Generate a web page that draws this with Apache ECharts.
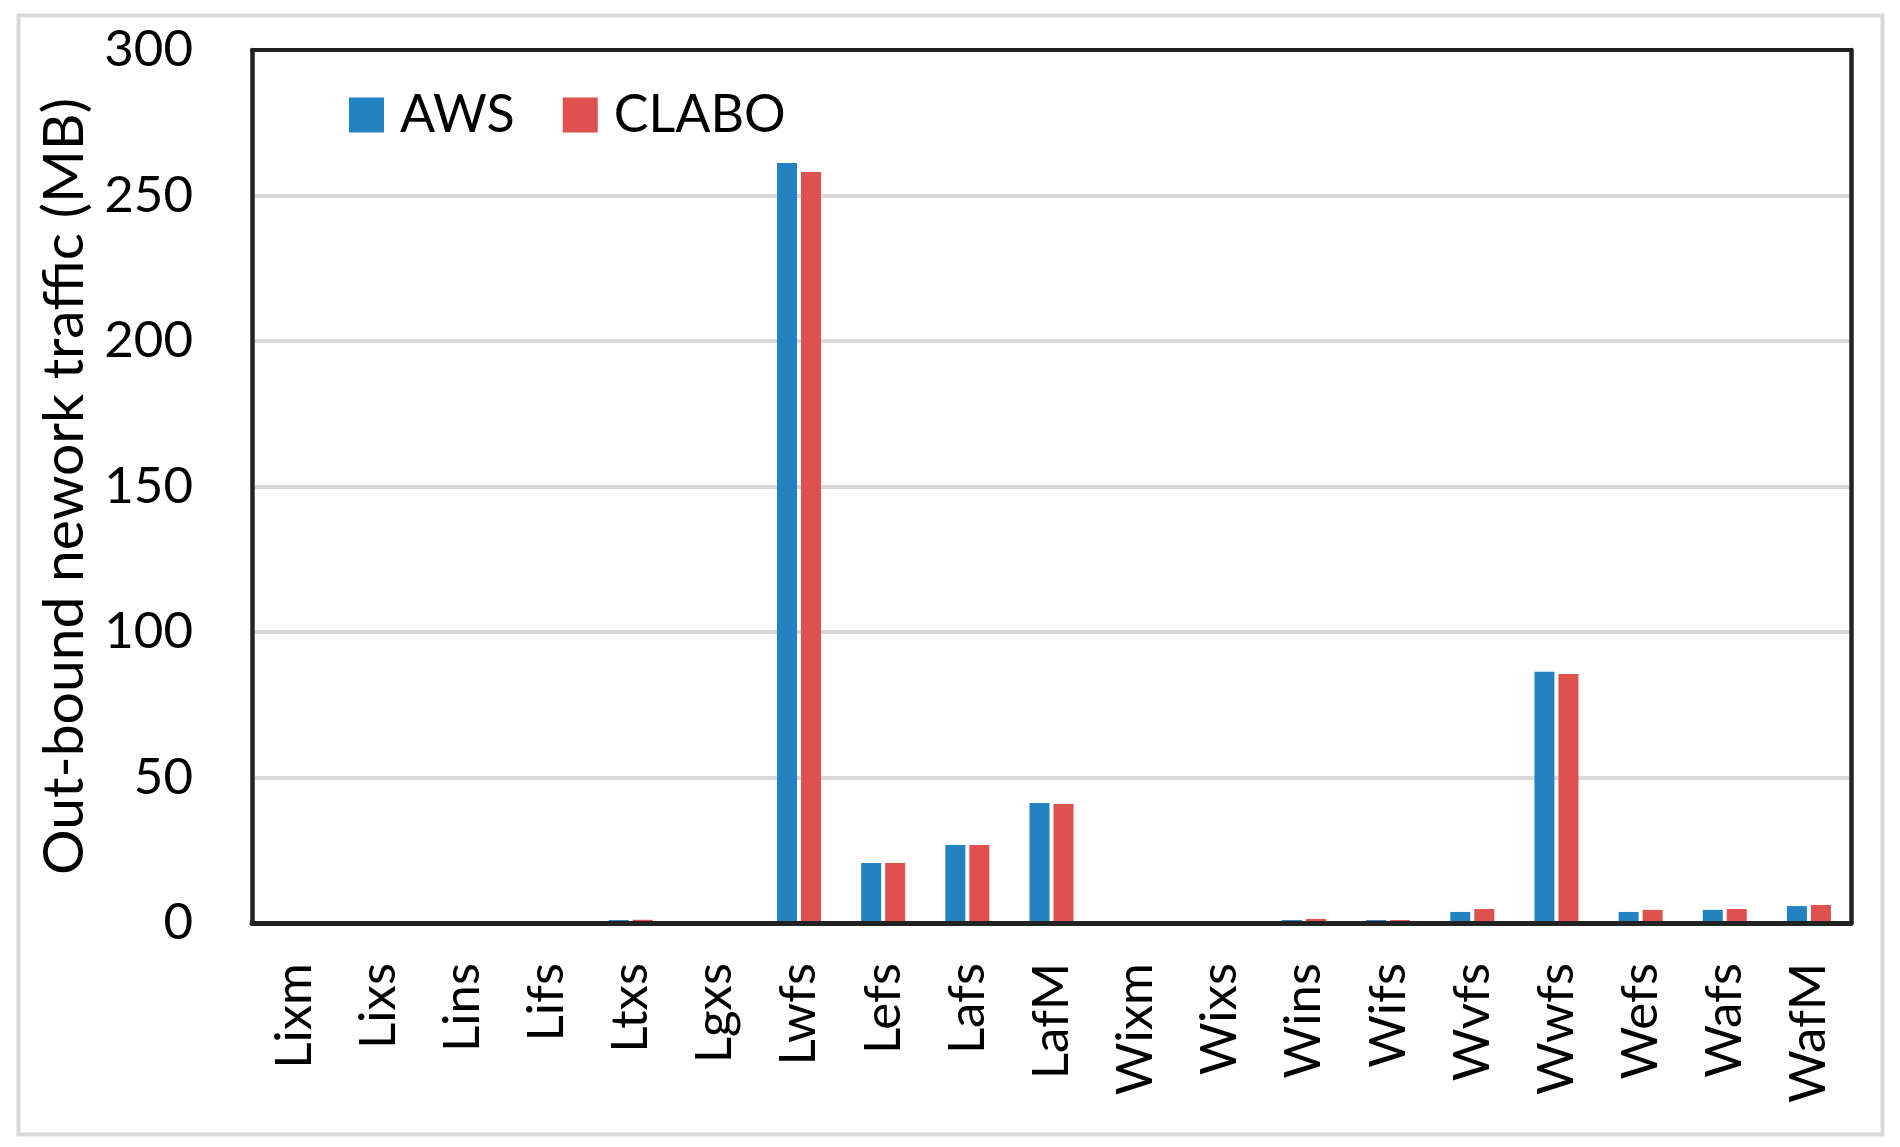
<!DOCTYPE html>
<html>
<head>
<meta charset="utf-8">
<script src="https://cdn.jsdelivr.net/npm/echarts@6/dist/echarts.min.js"></script>
<style>html,body{margin:0;padding:0;background:#fff;}#c{width:1900px;height:1147px;}</style>
</head>
<body>
<div id="c"></div>
<script>
const categories = ['Lixm','Lixs','Lins','Lifs','Ltxs','Lgxs','Lwfs','Lefs','Lafs','LafM','Wixm','Wixs','Wins','Wifs','Wvfs','Wwfs','Wefs','Wafs','WafM'];
const awsValues   = [0, 0, 0, 0, 1.0, 0, 261.2, 20.6, 26.8, 41.2, 0, 0, 1.0, 1.0, 3.8, 86.3, 3.8, 4.5, 5.8];
const claboValues = [0, 0, 0, 0, 1.1, 0, 258.1, 20.6, 26.8, 40.9, 0, 0, 1.4, 1.0, 4.8, 85.6, 4.5, 4.8, 6.2];
const seriesNames = ['AWS', 'CLABO'];
const yTicks = { min: 0, max: 300, interval: 50 };
const yTitle = 'Out-bound nework traffic (MB)';

const FONT = 'Lato';
const chart = echarts.init(document.getElementById('c'), null, { renderer: 'canvas' });
const axisDark = '#222222';
chart.setOption({
  animation: false,
  backgroundColor: '#ffffff',
  graphic: [{
    type: 'rect', left: 16, top: 13,
    shape: { width: 1864, height: 1119 },
    style: { fill: 'none', stroke: '#d9d9d9', lineWidth: 4 }, silent: true, z: -1
  }],
  grid: { left: 252, right: 49, top: 50, bottom: 224, show: false },
  legend: {
    left: 344, top: 84,
    itemWidth: 35, itemHeight: 35, itemGap: 48,
    icon: 'rect',
    data: seriesNames,
    textStyle: { fontFamily: FONT, fontSize: 52, color: '#000', lineHeight: 35, padding: [0, 0, 0, 11] }
  },
  xAxis: [{
    type: 'category', data: categories, position: 'bottom',
    axisLine: { show: true, lineStyle: { color: axisDark, width: 5 } },
    axisTick: { show: false },
    axisLabel: { rotate: 90, interval: 0, margin: 40, fontFamily: FONT, fontSize: 51, color: '#000' },
    splitLine: { show: false }, z: 5
  }, {
    type: 'category', data: categories, position: 'top',
    axisLine: { show: true, onZero: false, lineStyle: { color: axisDark, width: 4 } },
    axisTick: { show: false }, axisLabel: { show: false }, splitLine: { show: false }, z: 5
  }],
  yAxis: [{
    type: 'value', min: yTicks.min, max: yTicks.max, interval: yTicks.interval,
    name: yTitle, nameLocation: 'middle', nameGap: 150,
    nameTextStyle: { fontFamily: FONT, fontSize: 57, color: '#000' },
    axisLine: { show: true, lineStyle: { color: axisDark, width: 4.5 } },
    axisTick: { show: false },
    axisLabel: { margin: 59, fontFamily: FONT, fontSize: 51, color: '#000' },
    splitLine: { show: true, lineStyle: { color: '#d9d9d9', width: 4 } }
  }, {
    type: 'value', min: yTicks.min, max: yTicks.max, interval: yTicks.interval, position: 'right',
    axisLine: { show: true, lineStyle: { color: axisDark, width: 4.5 } },
    axisTick: { show: false }, axisLabel: { show: false }, splitLine: { show: false }
  }],
  series: [{
    name: seriesNames[0], type: 'bar', data: awsValues,
    barWidth: 20, barGap: '20%',
    itemStyle: { color: '#2382c0' }
  }, {
    name: seriesNames[1], type: 'bar', data: claboValues,
    barWidth: 20, barGap: '20%',
    itemStyle: { color: '#de514f' }
  }]
});
</script>
</body>
</html>
